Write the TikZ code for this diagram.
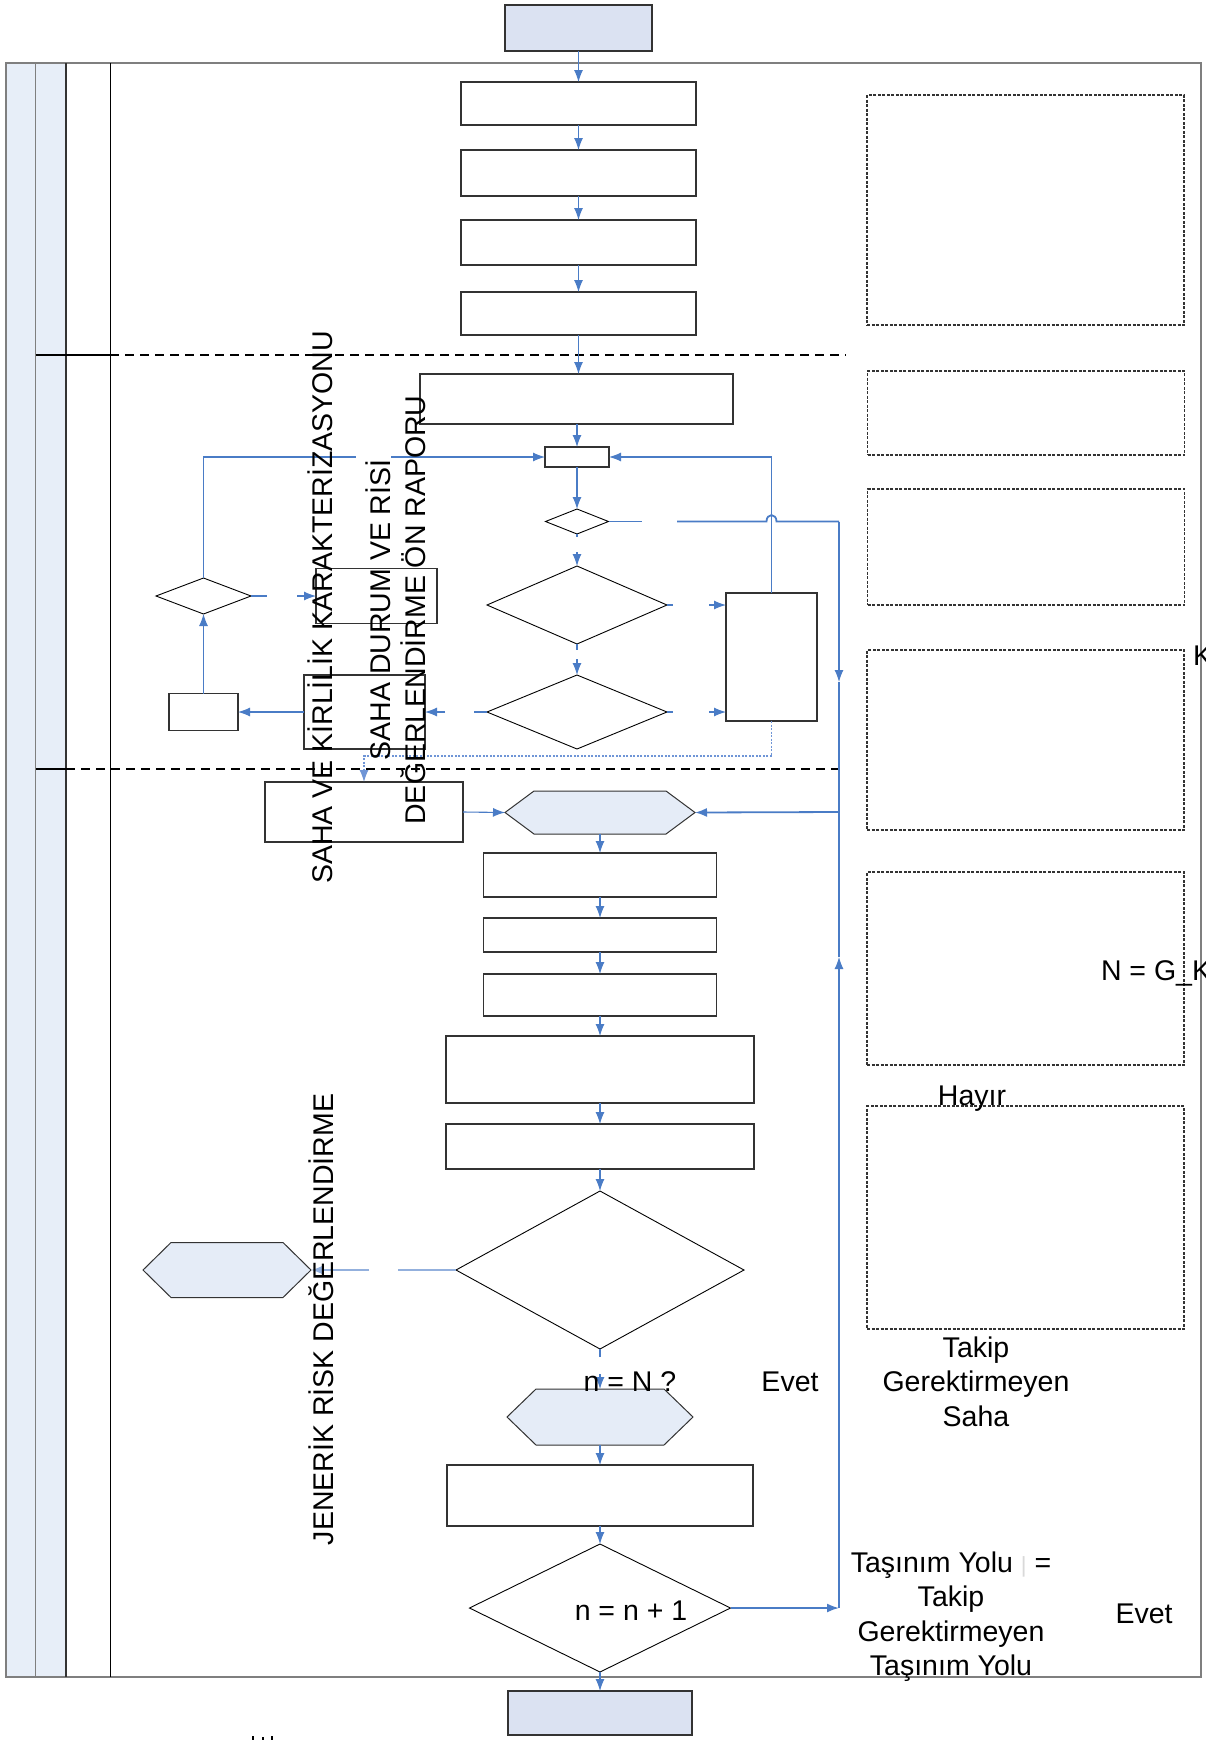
\documentclass[tikz,border=0pt]{standalone}
\usepackage{fontspec}
\setmainfont{Liberation Sans}
\usetikzlibrary{arrows.meta,shapes.geometric,calc}
\definecolor{cblue}{HTML}{4A7CC6}
\definecolor{lblue}{HTML}{93B0DD}
\definecolor{dblue}{HTML}{6F95D6}
\definecolor{lanefill}{HTML}{E7EEF8}
\definecolor{termfill}{HTML}{DBE2F2}
\definecolor{hexfill}{HTML}{E5ECF7}
\definecolor{edgec}{HTML}{333333}
\definecolor{framec}{HTML}{7F7F7F}
\begin{document}
\begin{tikzpicture}[x=1pt,y=-1pt,
  box/.style={rectangle,draw=edgec,line width=1.2pt,fill=white,inner sep=0pt,outer sep=0pt},
  term/.style={box,fill=termfill},
  dia/.style={diamond,draw=black,line width=0.9pt,fill=white,inner sep=0pt,outer sep=0pt},
  hexbase/.style={rectangle,inner sep=0pt,outer sep=0pt},
  hexline/.style={draw=edgec,line width=1pt,fill=hexfill},
  dbox/.style={rectangle,draw=edgec,line width=1.1pt,dash pattern=on 3pt off 1.5pt,inner sep=0pt,outer sep=0pt},
  conn/.style={draw=cblue,line width=1.1pt},
  thk/.style={draw=cblue,line width=1.8pt},
  arr/.style={conn,-{Latex[length=12pt,width=9pt]}},
  arrthk/.style={thk,-{Latex[length=12pt,width=9pt]}},
  lconn/.style={draw=lblue,line width=1.6pt},
  larr/.style={lconn,-{Latex[length=12pt,width=9pt]}},
  dotconn/.style={draw=dblue,line width=1.2pt,dash pattern=on 2pt off 1.5pt,-{Latex[length=12pt,width=9pt]}},
  lab/.style={font=\fontsize{28.5}{34.5}\selectfont,inner sep=0pt,outer sep=0pt}
]
\useasboundingbox (0,0) rectangle (1205,1740);
\fill[white] (0,0) rectangle (1205,1740);

% ---- swimlane frame ----
\fill[lanefill] (6,63) rectangle (66,1677);
\draw[framec,line width=1.5pt] (6,63) rectangle (1201,1677);
\draw[framec,line width=1.2pt] (35.5,63) -- (35.5,1677);
\draw[edgec,line width=1.1pt] (66,63) -- (66,1677);
\draw[black,line width=0.9pt] (110,63) -- (110,1677);
\draw[black,line width=1.3pt] (35.5,355) -- (110,355);
\draw[black,line width=1.3pt,dash pattern=on 9pt off 6pt] (110,355) -- (846,355);
\draw[black,line width=1.3pt] (35.5,769) -- (66,769);
\draw[black,line width=1.3pt,dash pattern=on 9pt off 6pt] (66,769) -- (840,769);

% ---- dashed boxes on the right ----
\node[dbox,minimum width=317pt,minimum height=230pt] (db1) at (1025.5,210) {};
\node[dbox,minimum width=317pt,minimum height=84pt] (db2) at (1026,413) {};
\node[dbox,minimum width=317pt,minimum height=116pt] (db3) at (1026,547) {};
\node[dbox,minimum width=317pt,minimum height=180pt] (db4) at (1025.5,740) {};
\node[dbox,minimum width=317pt,minimum height=193pt] (db5) at (1025.5,968.5) {};
\node[dbox,minimum width=317pt,minimum height=223pt] (db6) at (1025.5,1217.5) {};

% ---- top lane ----
\node[term,minimum width=147pt,minimum height=46pt] (start) at (578.5,28) {};
\node[box,minimum width=235pt,minimum height=43pt] (b1) at (578.5,103.5) {};
\node[box,minimum width=235pt,minimum height=46pt] (b2) at (578.5,173) {};
\node[box,minimum width=235pt,minimum height=45pt] (b3) at (578.5,242.5) {};
\node[box,minimum width=235pt,minimum height=43pt] (b4) at (578.5,313.5) {};

% ---- middle lane ----
\node[box,minimum width=313pt,minimum height=50pt] (b5) at (576.5,399) {};
\node[box,minimum width=64pt,minimum height=20pt] (b6) at (577,457) {};
\node[dia,minimum width=63pt,minimum height=25pt] (d1) at (577,521.5) {};
\node[dia,minimum width=180pt,minimum height=78pt] (d2) at (577,605) {};
\node[dia,minimum width=180pt,minimum height=74pt] (d3) at (577,712) {};
\node[box,minimum width=91pt,minimum height=128pt] (r1) at (771.5,657) {};
\node[box,minimum width=121pt,minimum height=74pt] (L1) at (364.5,712) {};
\node[box,minimum width=121pt,minimum height=55pt] (L2) at (376.5,596) {};
\node[box,minimum width=69pt,minimum height=37pt] (s1) at (203.5,712) {};
\node[dia,minimum width=95pt,minimum height=36pt] (d4) at (203.5,596) {};
\node[box,minimum width=198pt,minimum height=60pt] (L3) at (364,812) {};
\node[hexbase,minimum width=190pt,minimum height=43pt] (h1) at (600,812.5) {};
\filldraw[hexline] (h1.west) -- ([xshift=29pt]h1.north west) -- ([xshift=-29pt]h1.north east) -- (h1.east) -- ([xshift=-29pt]h1.south east) -- ([xshift=29pt]h1.south west) -- cycle;

% ---- bottom lane ----
\node[box,minimum width=233pt,minimum height=44pt] (b7) at (600,875) {};
\node[box,minimum width=233pt,minimum height=34pt] (b8) at (600,935) {};
\node[box,minimum width=233pt,minimum height=42pt] (b9) at (600,995) {};
\node[box,minimum width=308pt,minimum height=67pt] (b10) at (600,1069.5) {};
\node[box,minimum width=308pt,minimum height=45pt] (b11) at (600,1146.5) {};
\node[dia,minimum width=288pt,minimum height=158pt] (d5) at (600,1270) {};
\node[hexbase,minimum width=168pt,minimum height=55pt] (h2) at (227,1270) {};
\filldraw[hexline] (h2.west) -- ([xshift=28pt]h2.north west) -- ([xshift=-28pt]h2.north east) -- (h2.east) -- ([xshift=-28pt]h2.south east) -- ([xshift=28pt]h2.south west) -- cycle;
\node[hexbase,minimum width=186pt,minimum height=56pt] (h3) at (600,1417) {};
\filldraw[hexline] (h3.west) -- ([xshift=29pt]h3.north west) -- ([xshift=-29pt]h3.north east) -- (h3.east) -- ([xshift=-29pt]h3.south east) -- ([xshift=29pt]h3.south west) -- cycle;
\node[box,minimum width=306pt,minimum height=61pt] (b12) at (600,1495.5) {};
\node[dia,minimum width=261pt,minimum height=128pt] (d6) at (600,1608) {};
\node[term,minimum width=184pt,minimum height=44pt] (end) at (600,1713) {};

% ---- junction coordinates ----
\coordinate (g1) at (356,457);
\coordinate (g2) at (391,457);
\coordinate (k1) at (642,521.5);
\coordinate (k2) at (677,521.5);
\coordinate (j1) at (839,521.5);
\coordinate (j2) at (839,682);
\coordinate (j3) at (839,812);
\coordinate (j4) at (839,957);
\coordinate (j5) at (839,1608);
\coordinate (q1) at (771.5,756);
\coordinate (q2) at (364,756);

% ---- connectors ----
\draw[arr] (start.south) -- (b1.north);
\draw[arr] (b1.south) -- (b2.north);
\draw[arr] (b2.south) -- (b3.north);
\draw[arr] (b3.south) -- (b4.north);
\draw[arr] (b4.south) -- (b4.south |- b5.north);
\draw[arr] (b6.north |- b5.south) -- (b6.north);
\draw[arr] (b6.south) -- (d1.north);
\draw[conn] (d1.south) -- ++(0,3);
\draw[arr] ([yshift=14pt]d2.north) -- (d2.north);
\draw[conn] (d2.south) -- ++(0,6);
\draw[arr] ([yshift=16pt]d3.north) -- (d3.north);
\draw[conn] (d2.east) -- ++(6,0);
\draw[arr] ([xshift=-17pt]r1.west |- d2.east) -- (r1.west |- d2.east);
\draw[conn] (d3.east) -- ++(6,0);
\draw[arr] ([xshift=-17pt]r1.west |- d3.east) -- (r1.west |- d3.east);
\draw[conn] (d3.west) -- ++(-13,0);
\draw[arr] ([xshift=20pt]L1.east) -- (L1.east);
\draw[arr] (L1.west) -- (s1.east);
\draw[arr] (s1.north) -- (d4.south);
\draw[conn] (d4.east) -- ++(16,0);
\draw[arr] ([xshift=-19pt]L2.west) -- (L2.west);
\draw[conn] (d4.north) -- (d4.north |- g1) -- (g1);
\draw[arr] (g2) -- (b6.west);
\draw[arr] (r1.north) -- (r1.north |- b6.east) -- (b6.east);
\draw[conn] (d1.east) -- (k1);
\draw[thk] (k2) -- (766.5,521.5) .. controls (766.5,513) and (776.5,513) .. (776.5,521.5) -- (j1);
\draw[arr] (j1) -- (j2);
\draw[conn] (j2) -- (j3);
\draw[arrthk] (j3) -- (h1.east);
\draw[dotconn] (r1.south) -- (q1) -- (q2) -- (L3.north);
\draw[arr] (L3.east) -- (h1.west);
\draw[arr] (h1.south) -- (b7.north);
\draw[arr] (b7.south) -- (b8.north);
\draw[arr] (b8.south) -- (b9.north);
\draw[arr] (b9.south) -- (b10.north);
\draw[arr] (b10.south) -- (b11.north);
\draw[arr] (b11.south) -- (d5.north);
\draw[lconn] (d5.west) -- ++(-58,0);
\draw[larr] ([xshift=58pt]h2.east) -- (h2.east);
\draw[conn] (d5.south) -- ++(0,8);
\draw[arr] ([yshift=15pt]h3.north) -- (h3.north);
\draw[arr] (h3.south) -- (b12.north);
\draw[arr] (b12.south) -- (d6.north);
\draw[arr] (d6.south) -- (end.north);
\draw[arrthk] (d6.east) -- (j5);
\draw[arr] (j5) -- (j4);
\draw[conn] (j4) -- (j3);

% ---- texts ----
\node[lab,rotate=90,anchor=base] (t1) at (332,607.5) {SAHA VE KİRLİLİK KARAKTERİZASYONU};
\node[lab,rotate=90,align=center] (t2) at (396,610) {SAHA DURUM VE RİSİ\\DEĞERLENDİRME ÖN RAPORU};
\node[lab,rotate=90,anchor=base] (t3) at (333,1319.5) {JENERİK RİSK DEĞERLENDİRME};
\node[lab,anchor=base west] (tk) at (1193,665) {K};
\node[lab,anchor=base west] (tn) at (1101,980) {N = G\_K};
\node[lab,anchor=base] (th) at (972,1105) {Hayır};
\node[lab,anchor=base] (te1) at (790,1391) {Evet};
\node[lab,anchor=base] (tq) at (630,1391) {n = N ?};
\node[lab,anchor=north,align=center] (ts) at (976,1336.6) {Takip\\Gerektirmeyen\\Saha};
\node[lab,anchor=north,align=center] (ty) at (951,1551.6) {Taşınım Yolu \textcolor{black!15}{\fontsize{22}{22}\selectfont|} =\\Takip\\Gerektirmeyen\\Taşınım Yolu};
\node[lab,anchor=base] (te2) at (1144,1623) {Evet};
\node[lab,anchor=base] (tp) at (631,1620) {n = n + 1};

% tiny marks at the bottom edge
\fill[black] (252,1736) rectangle (254,1740);
\fill[black] (262,1737) rectangle (264,1740);
\fill[black] (271,1736) rectangle (273,1740);
\end{tikzpicture}
\end{document}
